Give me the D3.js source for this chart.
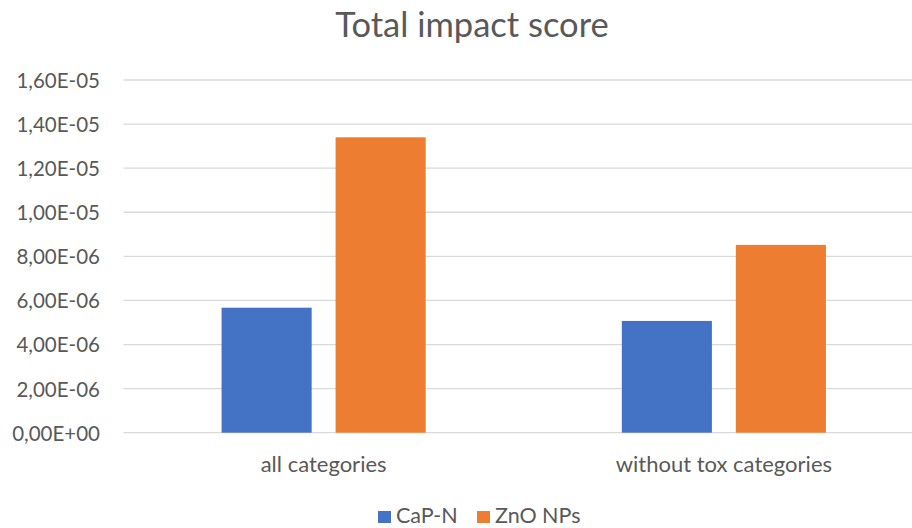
<!DOCTYPE html>
<html>
<head>
<meta charset="utf-8">
<script src="https://cdn.jsdelivr.net/npm/d3@7"></script>
<style>
  html, body { margin: 0; padding: 0; background: #fff; }
  svg { display: block; font-family: Lato, "Open Sans", sans-serif; }
</style>
</head>
<body>
<svg id="chart" width="912" height="528"></svg>
<script>
// Chart data
const categories = ["all categories", "without tox categories"];
const seriesNames = ["CaP-N", "ZnO NPs"];
const seriesColors = ["#4472C4", "#ED7D31"];
const capN = [5.67e-6, 5.07e-6];
const znoNPs = [1.340e-5, 8.52e-6];
const yTickValues = [0, 2e-6, 4e-6, 6e-6, 8e-6, 1e-5, 1.2e-5, 1.4e-5, 1.6e-5];
const title = "Total impact score";

const seriesValues = [capN, znoNPs];
const rows = categories.map((c, i) => ({
  category: c,
  values: seriesNames.map((s, j) => ({ series: s, value: seriesValues[j][i], color: seriesColors[j] }))
}));

const svg = d3.select("#chart");
const textColor = "#595959";
const gridColor = "#d9d9d9";

const plot = { left: 123.5, right: 924, top: 80, bottom: 432.7 };

const y = d3.scaleLinear().domain([0, 1.6e-5]).range([plot.bottom, plot.top]);
const x0 = d3.scaleBand().domain(categories).range([plot.left, plot.right]).padding(0);
const x1 = d3.scaleBand().domain(seriesNames).range([0, x0.bandwidth()])
  .paddingInner(0.21).paddingOuter(0.86);

// Excel-style scientific label: 1,60E-05
function sci(v) {
  const [m, e] = v.toExponential(2).split("e");
  const sign = e[0] === "-" ? "-" : "+";
  const digits = e.replace(/[+-]/, "").padStart(2, "0");
  return m.replace(".", ",") + "E" + sign + digits;
}

// Gridlines
svg.append("g")
  .selectAll("line")
  .data(yTickValues)
  .join("line")
  .attr("x1", plot.left)
  .attr("x2", 912)
  .attr("y1", d => y(d))
  .attr("y2", d => y(d))
  .attr("stroke", gridColor)
  .attr("stroke-width", 1.3);

// Y axis labels
const yAxis = d3.axisLeft(y).tickValues(yTickValues).tickFormat(sci).tickSize(0).tickPadding(0);
const yG = svg.append("g")
  .attr("transform", `translate(100,0)`)
  .call(yAxis);
yG.select(".domain").remove();
yG.selectAll("text")
  .attr("fill", textColor)
  .attr("font-size", 20.5)
  .attr("font-family", "Lato, sans-serif")
  .attr("dy", "0.36em");

// Bars
const groups = svg.append("g")
  .selectAll("g")
  .data(rows)
  .join("g")
  .attr("transform", d => `translate(${x0(d.category)},0)`);

groups.selectAll("rect")
  .data(d => d.values)
  .join("rect")
  .attr("x", d => x1(d.series))
  .attr("width", x1.bandwidth())
  .attr("y", d => y(d.value))
  .attr("height", d => y(0) - y(d.value))
  .attr("fill", d => d.color);

// X axis category labels
const xAxis = d3.axisBottom(x0).tickSize(0).tickPadding(0);
const xG = svg.append("g")
  .attr("transform", `translate(0,${plot.bottom})`)
  .call(xAxis);
xG.select(".domain").remove();
xG.selectAll("text")
  .attr("fill", textColor)
  .attr("font-size", 22)
  .attr("font-family", "Lato, sans-serif")
  .attr("dy", null)
  .attr("y", 39);

// Title
svg.append("text")
  .attr("x", 472)
  .attr("y", 37)
  .attr("text-anchor", "middle")
  .attr("fill", textColor)
  .attr("font-size", 34.5)
  .text(title);

// Legend
const legendX = [378, 477];
const legend = svg.append("g")
  .selectAll("g")
  .data(seriesNames)
  .join("g")
  .attr("transform", (d, i) => `translate(${legendX[i]},0)`);
legend.append("rect")
  .attr("x", 0)
  .attr("y", 511)
  .attr("width", 13)
  .attr("height", 12)
  .attr("fill", (d, i) => seriesColors[i]);
legend.append("text")
  .attr("x", 18)
  .attr("y", 523)
  .attr("fill", textColor)
  .attr("font-size", 21.5)
  .text(d => d);
</script>
</body>
</html>
